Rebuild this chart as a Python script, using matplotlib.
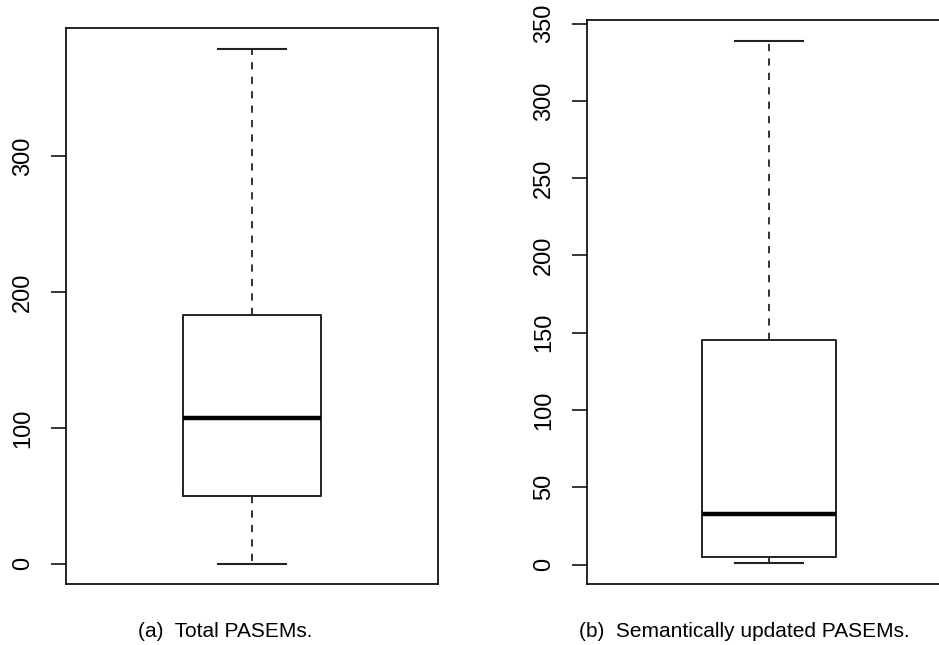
import matplotlib
matplotlib.use("Agg")
import matplotlib.pyplot as plt

plt.rcParams["font.family"] = ["Liberation Sans", "DejaVu Sans"]

# five-number summaries: low whisker, Q1, median, Q3, high whisker
total_stats = [0, 50, 107, 183, 379]
semantic_stats = [1, 5, 33, 145, 339]
total_ticks = [0, 100, 200, 300]
semantic_ticks = [0, 50, 100, 150, 200, 250, 300, 350]
captions = ["(a)  Total PASEMs.", "(b)  Semantically updated PASEMs."]


def r_boxplot(ax, vals, ticks):
    lo, q1, med, q3, hi = vals
    stats = [{"whislo": lo, "q1": q1, "med": med, "q3": q3, "whishi": hi, "fliers": []}]
    ax.bxp(
        stats,
        positions=[1],
        widths=0.37,
        showfliers=False,
        boxprops={"color": "#222222", "linewidth": 1.4},
        whiskerprops={"color": "#222222", "linewidth": 1.3, "linestyle": (0, (4, 4))},
        capprops={"color": "#222222", "linewidth": 1.5},
        medianprops={"color": "black", "linewidth": 3.2, "solid_capstyle": "butt"},
        capwidths=0.185,
    )
    # R style range: data extent padded by 4%
    span = hi - lo
    ax.set_ylim(lo - 0.04 * span, hi + 0.04 * span)
    ax.set_xlim(0.5, 1.5)
    ax.set_xticks([])
    ax.set_yticks(ticks)
    ax.set_yticklabels([str(t) for t in ticks], rotation=90, va="center")
    ax.tick_params(axis="y", direction="out", length=10.8, width=1.1, pad=12, labelsize=17)
    for s in ax.spines.values():
        s.set_linewidth(1.2)


fig = plt.figure(figsize=(9.39, 6.45), dpi=100)
ax1 = fig.add_axes([0.070, 0.0941, 0.3968, 0.862])
ax2 = fig.add_axes([0.6248, 0.0946, 0.3883, 0.8749])

r_boxplot(ax1, total_stats, total_ticks)
r_boxplot(ax2, semantic_stats, semantic_ticks)

fig.text(225 / 939, 0.0124, captions[0], ha="center", va="baseline", fontsize=15)
fig.text(744 / 939, 0.0124, captions[1], ha="center", va="baseline", fontsize=15)

fig.savefig("out.png", dpi=100)
